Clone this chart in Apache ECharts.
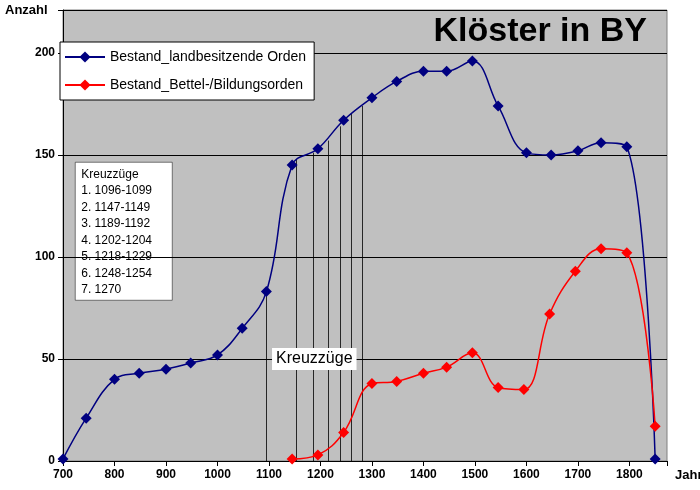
<!DOCTYPE html>
<html><head><meta charset="utf-8">
<script src="https://cdn.jsdelivr.net/npm/echarts@6/dist/echarts.min.js"></script>
<style>html,body{margin:0;background:#fff}#c{width:700px;height:490px}</style>
</head><body><div id="c"></div>
<script>
const blueYears=[700,745,800,848,900,948,1000,1048,1095,1145,1195,1245,1300,1348,1400,1445,1495,1545,1600,1648,1700,1745,1795,1850];
const blueVals=[1,21,40,43,45,48,52,65,83,145,153,167,178,186,191,191,196,174,151,150,152,156,154,1];
const redYears=[1145,1195,1245,1300,1348,1400,1445,1495,1545,1595,1645,1695,1745,1795,1850];
const redVals=[1,3,14,38,39,43,46,53,36,35,72,93,104,102,17];
const crusadeX=[1094,1153,1186,1215,1238,1260,1281];
const crusadeY=[83,148,151,157,164,170,174];
const kreuzText=['Kreuzzüge','1. 1096-1099','2. 1147-1149','3. 1189-1192','4. 1202-1204','5. 1218-1229','6. 1248-1254','7. 1270'];
const ch=echarts.init(document.getElementById('c'));
const ff='Liberation Sans, Arial, sans-serif';
ch.setOption({
 animation:false,
 textStyle:{fontFamily:ff},
 grid:{left:63,right:33,top:10,bottom:29,show:true,outerBoundsMode:'none',containLabel:false,backgroundColor:'#c0c0c0',borderColor:'#808080',borderWidth:1},
 title:{text:'Klöster in BY',right:48,top:10,textStyle:{fontSize:34,fontWeight:'bold',color:'#000',fontFamily:ff}},
 legend:{left:60,top:42,orient:'vertical',backgroundColor:'#fff',borderColor:'#000',borderWidth:1,padding:[8,8,8,4],itemGap:14,itemWidth:40,
   textStyle:{fontSize:14,color:'#000'},data:['Bestand_landbesitzende Orden','Bestand_Bettel-/Bildungsorden']},
 xAxis:{type:'value',min:700,max:1873,interval:100,
   axisLine:{lineStyle:{color:'#000'}},axisTick:{show:true,lineStyle:{color:'#000'}},
   axisLabel:{color:'#000',fontSize:12,fontWeight:'bold',formatter:v=>v%100===0&&v<=1800?v:''},splitLine:{show:false},
   name:'Jahr',nameLocation:'end',nameGap:8,nameTextStyle:{fontSize:13,fontWeight:'bold',color:'#000',verticalAlign:'top',padding:[8,0,0,0]}},
 yAxis:{type:'value',min:0,max:221,interval:50,
   axisLine:{show:true,lineStyle:{color:'#000'}},axisTick:{show:true,lineStyle:{color:'#000'}},
   axisLabel:{color:'#000',fontSize:12,fontWeight:'bold',formatter:v=>v%50===0&&v<=200?v:''},
   splitLine:{lineStyle:{color:'#000',width:1}}},
 graphic:[
  {type:'text',left:5,top:4,style:{text:'Anzahl',font:'bold 13px '+ff,fill:'#000'}},
  {type:'group',left:75,top:162,children:[
    {type:'rect',shape:{x:0,y:0,width:97,height:138},style:{fill:'#fff',stroke:'#000',lineWidth:0.5}},
    ...kreuzText.map((t,i)=>({type:'text',x:6,y:6+i*16.5,style:{text:t,font:'12px '+ff,fill:'#000'}}))
  ]}
 ],
 series:[
  {name:'Bestand_landbesitzende Orden',type:'line',smooth:0.4,data:blueYears.map((y,i)=>[y,blueVals[i]]),
   symbol:'diamond',symbolSize:11,lineStyle:{color:'#000080',width:1.5},itemStyle:{color:'#000080'},z:5,
   markLine:{silent:true,symbol:'none',label:{show:false},lineStyle:{color:'#000',width:0.8,type:'solid'},
     data:crusadeX.map((x,i)=>[{coord:[x,0]},{coord:[x,crusadeY[i]]}])}},
  {name:'Bestand_Bettel-/Bildungsorden',type:'line',smooth:0.4,data:redYears.map((y,i)=>[y,redVals[i]]),
   symbol:'diamond',symbolSize:11,lineStyle:{color:'#ff0000',width:1.5},itemStyle:{color:'#ff0000'},z:5,
   markPoint:{symbol:'rect',symbolSize:1,data:[{coord:[1188,50],label:{show:true,formatter:'Kreuzzüge',fontSize:16,color:'#000',
     backgroundColor:'#fff',padding:[3,4],position:'inside'}}]}}
 ]
});
</script></body></html>
